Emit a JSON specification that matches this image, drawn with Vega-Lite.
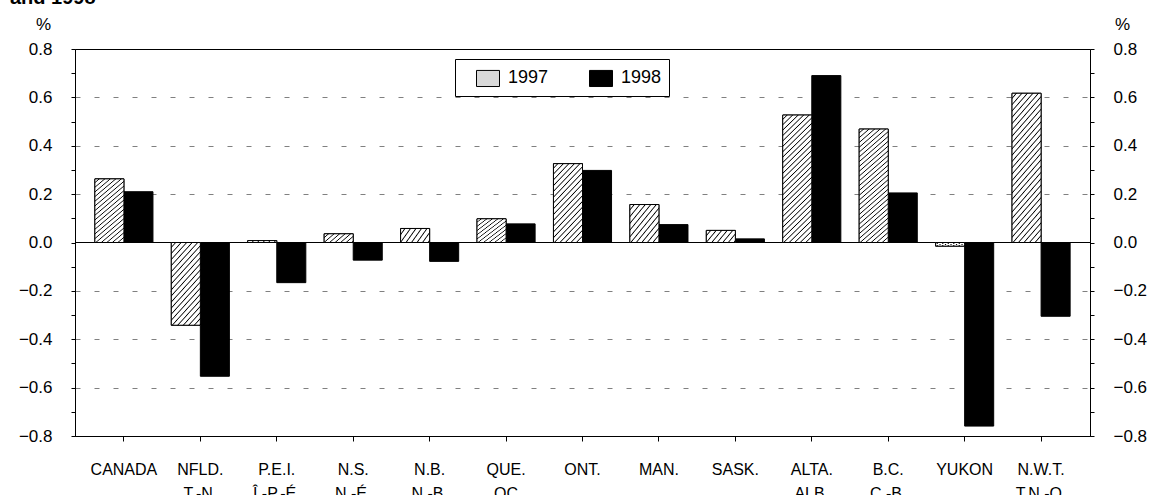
{
"$schema": "https://vega.github.io/schema/vega-lite/v6.json",
"width": 1015, "height": 387,
"autosize": {"type": "none"},
"padding": {"left": 75, "top": 49, "right": 66, "bottom": 59},
"background": "white",
"title": {"text": "and 1998", "anchor": "start", "frame": "group", "fontSize": 20, "fontWeight": "bold", "font": "Liberation Sans", "color": "black", "offset": 0, "dx": -65, "dy": 9, "baseline": "alphabetic"},
"data": {"values": [
{"region": "CANADA", "year": "1997", "value": 0.263},
{"region": "CANADA", "year": "1998", "value": 0.21},
{"region": "NFLD.|T.-N.", "year": "1997", "value": -0.342},
{"region": "NFLD.|T.-N.", "year": "1998", "value": -0.553},
{"region": "P.E.I.|Î.-P.-É.", "year": "1997", "value": 0.008},
{"region": "P.E.I.|Î.-P.-É.", "year": "1998", "value": -0.166},
{"region": "N.S.|N.-É.", "year": "1997", "value": 0.036},
{"region": "N.S.|N.-É.", "year": "1998", "value": -0.073},
{"region": "N.B.|N.-B.", "year": "1997", "value": 0.058},
{"region": "N.B.|N.-B.", "year": "1998", "value": -0.078},
{"region": "QUE.|QC", "year": "1997", "value": 0.098},
{"region": "QUE.|QC", "year": "1998", "value": 0.077},
{"region": "ONT.", "year": "1997", "value": 0.326},
{"region": "ONT.", "year": "1998", "value": 0.298},
{"region": "MAN.", "year": "1997", "value": 0.157},
{"region": "MAN.", "year": "1998", "value": 0.074},
{"region": "SASK.", "year": "1997", "value": 0.05},
{"region": "SASK.", "year": "1998", "value": 0.015},
{"region": "ALTA.|ALB.", "year": "1997", "value": 0.527},
{"region": "ALTA.|ALB.", "year": "1998", "value": 0.69},
{"region": "B.C.|C.-B.", "year": "1997", "value": 0.469},
{"region": "B.C.|C.-B.", "year": "1998", "value": 0.205},
{"region": "YUKON", "year": "1997", "value": -0.015},
{"region": "YUKON", "year": "1998", "value": -0.759},
{"region": "N.W.T.|T.N.-O.", "year": "1997", "value": 0.617},
{"region": "N.W.T.|T.N.-O.", "year": "1998", "value": -0.305}
]},
"layer": [
{
"mark": {"type": "bar", "stroke": "black", "strokeWidth": 1},
"encoding": {
"x": {"field": "region", "type": "nominal", "sort": null, "scale": {"paddingInner": 0.24, "paddingOuter": 0.26},
 "axis": {"title": null, "orient": "bottom", "labelAngle": 0, "tickSize": 5, "labelFontSize": 16, "labelPadding": 28, "labelBaseline": "middle", "labelLineHeight": 24, "labelExpr": "split(datum.label, '|')", "grid": false, "labelFont": "Liberation Sans", "labelColor": "black"}},
"xOffset": {"field": "year", "type": "nominal", "scale": {"domain": ["1997", "1998"], "paddingInner": 0, "paddingOuter": 0}},
"y": {"field": "value", "type": "quantitative", "scale": {"domain": [-0.8, 0.8], "nice": false},
 "axis": {"orient": "left", "title": "%", "titleAngle": 0, "titleX": -32, "titleY": -25, "titleAlign": "center", "titleBaseline": "middle", "titleFontSize": 17, "titleFontWeight": "normal",
  "values": [-0.8, -0.7, -0.6, -0.5, -0.4, -0.3, -0.2, -0.1, 0, 0.1, 0.2, 0.3, 0.4, 0.5, 0.6, 0.7, 0.8],
  "labelExpr": "abs(round(datum.value*10)) % 2 == 0 ? format(datum.value, '.1f') : ''",
  "labelOverlap": false, "labelFontSize": 17, "labelPadding": 19, "tickSize": 4,
  "grid": true, "gridColor": "#808080", "gridWidth": 1, "gridDash": [5, 14],
  "gridOpacity": {"condition": {"test": "abs(datum.value) > 0.15 && abs(datum.value) < 0.75 && abs(round(datum.value*10)) % 2 == 0", "value": 1}, "value": 0}}},
"fill": {"field": "year", "type": "nominal",
 "scale": {"domain": ["1997", "1998"], "range": ["#d9d9d9", "#000000"]},
 "legend": {"title": null, "orient": "none", "legendX": 380, "legendY": 10, "direction": "horizontal", "strokeColor": "black", "fillColor": "white", "padding": 7,
  "symbolType": "M-1,-0.7H1V0.7H-1Z", "symbolSize": 529, "symbolStrokeColor": "black", "symbolStrokeWidth": 1,
  "labelFontSize": 18, "labelFont": "Liberation Sans", "labelColor": "black", "labelOffset": 8, "columnPadding": 26, "symbolOffset": 14}}
}
},
{
"mark": {"type": "rule", "color": "black", "strokeWidth": 1},
"encoding": {"y": {"datum": 0, "type": "quantitative", "axis": null}}
},
{
"transform": [{"filter": "datum.year == '1997'"}],
"mark": {"type": "bar", "stroke": "black", "strokeWidth": 1},
"encoding": {
"x": {"field": "region", "type": "nominal", "sort": null, "scale": {"paddingInner": 0.24, "paddingOuter": 0.26},
 "axis": {"title": null, "orient": "bottom", "labelAngle": 0, "tickSize": 5, "labelFontSize": 16, "labelPadding": 28, "labelBaseline": "middle", "labelLineHeight": 24, "labelExpr": "split(datum.label, '|')", "grid": false, "labelFont": "Liberation Sans", "labelColor": "black"}},
"xOffset": {"field": "year", "type": "nominal", "scale": {"domain": ["1997", "1998"], "paddingInner": 0, "paddingOuter": 0}},
"y": {"field": "value", "type": "quantitative", "scale": {"domain": [-0.8, 0.8], "nice": false},
 "axis": {"orient": "right", "title": "%", "titleAngle": 0, "titleX": 32, "titleY": -25, "titleAlign": "center", "titleBaseline": "middle", "titleFontSize": 17, "titleFontWeight": "normal",
  "values": [-0.8, -0.7, -0.6, -0.5, -0.4, -0.3, -0.2, -0.1, 0, 0.1, 0.2, 0.3, 0.4, 0.5, 0.6, 0.7, 0.8],
  "labelExpr": "abs(round(datum.value*10)) % 2 == 0 ? format(datum.value, '.1f') : ''",
  "labelOverlap": false, "labelFontSize": 17, "labelPadding": 19, "tickSize": 4, "grid": false}},
"fill": {"condition": [
  {"test": "datum.value < -0.2", "value": {"gradient": "linear", "x1": 0, "y1": 0, "x2": 0.6167, "y2": 1.5949, "stops": [
   {"offset": 0, "color": "#fff"},
   {"offset": 0.024, "color": "#fff"}, {"offset": 0.032, "color": "#000"}, {"offset": 0.04, "color": "#fff"},
   {"offset": 0.064, "color": "#fff"}, {"offset": 0.072, "color": "#000"}, {"offset": 0.08, "color": "#fff"},
   {"offset": 0.104, "color": "#fff"}, {"offset": 0.112, "color": "#000"}, {"offset": 0.12, "color": "#fff"},
   {"offset": 0.144, "color": "#fff"}, {"offset": 0.152, "color": "#000"}, {"offset": 0.16, "color": "#fff"},
   {"offset": 0.184, "color": "#fff"}, {"offset": 0.192, "color": "#000"}, {"offset": 0.2, "color": "#fff"},
   {"offset": 0.224, "color": "#fff"}, {"offset": 0.232, "color": "#000"}, {"offset": 0.24, "color": "#fff"},
   {"offset": 0.264, "color": "#fff"}, {"offset": 0.272, "color": "#000"}, {"offset": 0.28, "color": "#fff"},
   {"offset": 0.304, "color": "#fff"}, {"offset": 0.312, "color": "#000"}, {"offset": 0.32, "color": "#fff"},
   {"offset": 0.344, "color": "#fff"}, {"offset": 0.352, "color": "#000"}, {"offset": 0.36, "color": "#fff"},
   {"offset": 0.384, "color": "#fff"}, {"offset": 0.392, "color": "#000"}, {"offset": 0.4, "color": "#fff"},
   {"offset": 0.424, "color": "#fff"}, {"offset": 0.432, "color": "#000"}, {"offset": 0.44, "color": "#fff"},
   {"offset": 0.464, "color": "#fff"}, {"offset": 0.472, "color": "#000"}, {"offset": 0.48, "color": "#fff"},
   {"offset": 0.504, "color": "#fff"}, {"offset": 0.512, "color": "#000"}, {"offset": 0.52, "color": "#fff"},
   {"offset": 0.544, "color": "#fff"}, {"offset": 0.552, "color": "#000"}, {"offset": 0.56, "color": "#fff"},
   {"offset": 0.584, "color": "#fff"}, {"offset": 0.592, "color": "#000"}, {"offset": 0.6, "color": "#fff"},
   {"offset": 0.624, "color": "#fff"}, {"offset": 0.632, "color": "#000"}, {"offset": 0.64, "color": "#fff"},
   {"offset": 0.664, "color": "#fff"}, {"offset": 0.672, "color": "#000"}, {"offset": 0.68, "color": "#fff"},
   {"offset": 0.704, "color": "#fff"}, {"offset": 0.712, "color": "#000"}, {"offset": 0.72, "color": "#fff"},
   {"offset": 0.744, "color": "#fff"}, {"offset": 0.752, "color": "#000"}, {"offset": 0.76, "color": "#fff"},
   {"offset": 0.784, "color": "#fff"}, {"offset": 0.792, "color": "#000"}, {"offset": 0.8, "color": "#fff"},
   {"offset": 0.824, "color": "#fff"}, {"offset": 0.832, "color": "#000"}, {"offset": 0.84, "color": "#fff"},
   {"offset": 0.864, "color": "#fff"}, {"offset": 0.872, "color": "#000"}, {"offset": 0.88, "color": "#fff"},
   {"offset": 0.904, "color": "#fff"}, {"offset": 0.912, "color": "#000"}, {"offset": 0.92, "color": "#fff"},
   {"offset": 0.944, "color": "#fff"}, {"offset": 0.952, "color": "#000"}, {"offset": 0.96, "color": "#fff"},
   {"offset": 0.984, "color": "#fff"}, {"offset": 0.992, "color": "#000"}, {"offset": 1, "color": "#fff"}]}},
  {"test": "datum.value < 0.07", "value": {"gradient": "linear", "x1": 0, "y1": 0, "x2": 1.356, "y2": 0.468, "stops": [
   {"offset": 0, "color": "#fff"},
   {"offset": 0.075, "color": "#fff"}, {"offset": 0.1, "color": "#000"}, {"offset": 0.125, "color": "#fff"},
   {"offset": 0.2, "color": "#fff"}, {"offset": 0.225, "color": "#000"}, {"offset": 0.25, "color": "#fff"},
   {"offset": 0.325, "color": "#fff"}, {"offset": 0.35, "color": "#000"}, {"offset": 0.375, "color": "#fff"},
   {"offset": 0.45, "color": "#fff"}, {"offset": 0.475, "color": "#000"}, {"offset": 0.5, "color": "#fff"},
   {"offset": 0.575, "color": "#fff"}, {"offset": 0.6, "color": "#000"}, {"offset": 0.625, "color": "#fff"},
   {"offset": 0.7, "color": "#fff"}, {"offset": 0.725, "color": "#000"}, {"offset": 0.75, "color": "#fff"},
   {"offset": 0.825, "color": "#fff"}, {"offset": 0.85, "color": "#000"}, {"offset": 0.875, "color": "#fff"},
   {"offset": 0.95, "color": "#fff"}, {"offset": 0.975, "color": "#000"}, {"offset": 1, "color": "#fff"}]}},
  {"test": "datum.value < 0.2", "value": {"gradient": "linear", "x1": 0, "y1": 0, "x2": 1.106, "y2": 1.183, "stops": [
   {"offset": 0, "color": "#fff"},
   {"offset": 0.048, "color": "#fff"}, {"offset": 0.064, "color": "#000"}, {"offset": 0.08, "color": "#fff"},
   {"offset": 0.128, "color": "#fff"}, {"offset": 0.144, "color": "#000"}, {"offset": 0.16, "color": "#fff"},
   {"offset": 0.208, "color": "#fff"}, {"offset": 0.224, "color": "#000"}, {"offset": 0.24, "color": "#fff"},
   {"offset": 0.288, "color": "#fff"}, {"offset": 0.304, "color": "#000"}, {"offset": 0.32, "color": "#fff"},
   {"offset": 0.368, "color": "#fff"}, {"offset": 0.384, "color": "#000"}, {"offset": 0.4, "color": "#fff"},
   {"offset": 0.448, "color": "#fff"}, {"offset": 0.464, "color": "#000"}, {"offset": 0.48, "color": "#fff"},
   {"offset": 0.528, "color": "#fff"}, {"offset": 0.544, "color": "#000"}, {"offset": 0.56, "color": "#fff"},
   {"offset": 0.608, "color": "#fff"}, {"offset": 0.624, "color": "#000"}, {"offset": 0.64, "color": "#fff"},
   {"offset": 0.688, "color": "#fff"}, {"offset": 0.704, "color": "#000"}, {"offset": 0.72, "color": "#fff"},
   {"offset": 0.768, "color": "#fff"}, {"offset": 0.784, "color": "#000"}, {"offset": 0.8, "color": "#fff"},
   {"offset": 0.848, "color": "#fff"}, {"offset": 0.864, "color": "#000"}, {"offset": 0.88, "color": "#fff"},
   {"offset": 0.928, "color": "#fff"}, {"offset": 0.944, "color": "#000"}, {"offset": 0.96, "color": "#fff"},
   {"offset": 1, "color": "#fff"}]}},
  {"test": "datum.value < 0.4", "value": {"gradient": "linear", "x1": 0, "y1": 0, "x2": 0.6167, "y2": 1.5949, "stops": [
   {"offset": 0, "color": "#fff"},
   {"offset": 0.024, "color": "#fff"}, {"offset": 0.032, "color": "#000"}, {"offset": 0.04, "color": "#fff"},
   {"offset": 0.064, "color": "#fff"}, {"offset": 0.072, "color": "#000"}, {"offset": 0.08, "color": "#fff"},
   {"offset": 0.104, "color": "#fff"}, {"offset": 0.112, "color": "#000"}, {"offset": 0.12, "color": "#fff"},
   {"offset": 0.144, "color": "#fff"}, {"offset": 0.152, "color": "#000"}, {"offset": 0.16, "color": "#fff"},
   {"offset": 0.184, "color": "#fff"}, {"offset": 0.192, "color": "#000"}, {"offset": 0.2, "color": "#fff"},
   {"offset": 0.224, "color": "#fff"}, {"offset": 0.232, "color": "#000"}, {"offset": 0.24, "color": "#fff"},
   {"offset": 0.264, "color": "#fff"}, {"offset": 0.272, "color": "#000"}, {"offset": 0.28, "color": "#fff"},
   {"offset": 0.304, "color": "#fff"}, {"offset": 0.312, "color": "#000"}, {"offset": 0.32, "color": "#fff"},
   {"offset": 0.344, "color": "#fff"}, {"offset": 0.352, "color": "#000"}, {"offset": 0.36, "color": "#fff"},
   {"offset": 0.384, "color": "#fff"}, {"offset": 0.392, "color": "#000"}, {"offset": 0.4, "color": "#fff"},
   {"offset": 0.424, "color": "#fff"}, {"offset": 0.432, "color": "#000"}, {"offset": 0.44, "color": "#fff"},
   {"offset": 0.464, "color": "#fff"}, {"offset": 0.472, "color": "#000"}, {"offset": 0.48, "color": "#fff"},
   {"offset": 0.504, "color": "#fff"}, {"offset": 0.512, "color": "#000"}, {"offset": 0.52, "color": "#fff"},
   {"offset": 0.544, "color": "#fff"}, {"offset": 0.552, "color": "#000"}, {"offset": 0.56, "color": "#fff"},
   {"offset": 0.584, "color": "#fff"}, {"offset": 0.592, "color": "#000"}, {"offset": 0.6, "color": "#fff"},
   {"offset": 0.624, "color": "#fff"}, {"offset": 0.632, "color": "#000"}, {"offset": 0.64, "color": "#fff"},
   {"offset": 0.664, "color": "#fff"}, {"offset": 0.672, "color": "#000"}, {"offset": 0.68, "color": "#fff"},
   {"offset": 0.704, "color": "#fff"}, {"offset": 0.712, "color": "#000"}, {"offset": 0.72, "color": "#fff"},
   {"offset": 0.744, "color": "#fff"}, {"offset": 0.752, "color": "#000"}, {"offset": 0.76, "color": "#fff"},
   {"offset": 0.784, "color": "#fff"}, {"offset": 0.792, "color": "#000"}, {"offset": 0.8, "color": "#fff"},
   {"offset": 0.824, "color": "#fff"}, {"offset": 0.832, "color": "#000"}, {"offset": 0.84, "color": "#fff"},
   {"offset": 0.864, "color": "#fff"}, {"offset": 0.872, "color": "#000"}, {"offset": 0.88, "color": "#fff"},
   {"offset": 0.904, "color": "#fff"}, {"offset": 0.912, "color": "#000"}, {"offset": 0.92, "color": "#fff"},
   {"offset": 0.944, "color": "#fff"}, {"offset": 0.952, "color": "#000"}, {"offset": 0.96, "color": "#fff"},
   {"offset": 0.984, "color": "#fff"}, {"offset": 0.992, "color": "#000"}, {"offset": 1, "color": "#fff"}]}}
 ],
 "value": {"gradient": "linear", "x1": 0, "y1": 0, "x2": 0.2997, "y2": 1.3434, "stops": [
   {"offset": 0, "color": "#fff"},
   {"offset": 0.018, "color": "#fff"}, {"offset": 0.024, "color": "#000"}, {"offset": 0.03, "color": "#fff"},
   {"offset": 0.048, "color": "#fff"}, {"offset": 0.054, "color": "#000"}, {"offset": 0.06, "color": "#fff"},
   {"offset": 0.078, "color": "#fff"}, {"offset": 0.084, "color": "#000"}, {"offset": 0.09, "color": "#fff"},
   {"offset": 0.108, "color": "#fff"}, {"offset": 0.114, "color": "#000"}, {"offset": 0.12, "color": "#fff"},
   {"offset": 0.138, "color": "#fff"}, {"offset": 0.144, "color": "#000"}, {"offset": 0.15, "color": "#fff"},
   {"offset": 0.168, "color": "#fff"}, {"offset": 0.174, "color": "#000"}, {"offset": 0.18, "color": "#fff"},
   {"offset": 0.198, "color": "#fff"}, {"offset": 0.204, "color": "#000"}, {"offset": 0.21, "color": "#fff"},
   {"offset": 0.228, "color": "#fff"}, {"offset": 0.234, "color": "#000"}, {"offset": 0.24, "color": "#fff"},
   {"offset": 0.258, "color": "#fff"}, {"offset": 0.264, "color": "#000"}, {"offset": 0.27, "color": "#fff"},
   {"offset": 0.288, "color": "#fff"}, {"offset": 0.294, "color": "#000"}, {"offset": 0.3, "color": "#fff"},
   {"offset": 0.318, "color": "#fff"}, {"offset": 0.324, "color": "#000"}, {"offset": 0.33, "color": "#fff"},
   {"offset": 0.348, "color": "#fff"}, {"offset": 0.354, "color": "#000"}, {"offset": 0.36, "color": "#fff"},
   {"offset": 0.378, "color": "#fff"}, {"offset": 0.384, "color": "#000"}, {"offset": 0.39, "color": "#fff"},
   {"offset": 0.408, "color": "#fff"}, {"offset": 0.414, "color": "#000"}, {"offset": 0.42, "color": "#fff"},
   {"offset": 0.438, "color": "#fff"}, {"offset": 0.444, "color": "#000"}, {"offset": 0.45, "color": "#fff"},
   {"offset": 0.468, "color": "#fff"}, {"offset": 0.474, "color": "#000"}, {"offset": 0.48, "color": "#fff"},
   {"offset": 0.498, "color": "#fff"}, {"offset": 0.504, "color": "#000"}, {"offset": 0.51, "color": "#fff"},
   {"offset": 0.528, "color": "#fff"}, {"offset": 0.534, "color": "#000"}, {"offset": 0.54, "color": "#fff"},
   {"offset": 0.558, "color": "#fff"}, {"offset": 0.564, "color": "#000"}, {"offset": 0.57, "color": "#fff"},
   {"offset": 0.588, "color": "#fff"}, {"offset": 0.594, "color": "#000"}, {"offset": 0.6, "color": "#fff"},
   {"offset": 0.618, "color": "#fff"}, {"offset": 0.624, "color": "#000"}, {"offset": 0.63, "color": "#fff"},
   {"offset": 0.648, "color": "#fff"}, {"offset": 0.654, "color": "#000"}, {"offset": 0.66, "color": "#fff"},
   {"offset": 0.678, "color": "#fff"}, {"offset": 0.684, "color": "#000"}, {"offset": 0.69, "color": "#fff"},
   {"offset": 0.708, "color": "#fff"}, {"offset": 0.714, "color": "#000"}, {"offset": 0.72, "color": "#fff"},
   {"offset": 0.738, "color": "#fff"}, {"offset": 0.744, "color": "#000"}, {"offset": 0.75, "color": "#fff"},
   {"offset": 0.768, "color": "#fff"}, {"offset": 0.774, "color": "#000"}, {"offset": 0.78, "color": "#fff"},
   {"offset": 0.798, "color": "#fff"}, {"offset": 0.804, "color": "#000"}, {"offset": 0.81, "color": "#fff"},
   {"offset": 0.828, "color": "#fff"}, {"offset": 0.834, "color": "#000"}, {"offset": 0.84, "color": "#fff"},
   {"offset": 0.858, "color": "#fff"}, {"offset": 0.864, "color": "#000"}, {"offset": 0.87, "color": "#fff"},
   {"offset": 0.888, "color": "#fff"}, {"offset": 0.894, "color": "#000"}, {"offset": 0.9, "color": "#fff"},
   {"offset": 0.918, "color": "#fff"}, {"offset": 0.924, "color": "#000"}, {"offset": 0.93, "color": "#fff"},
   {"offset": 0.948, "color": "#fff"}, {"offset": 0.954, "color": "#000"}, {"offset": 0.96, "color": "#fff"},
   {"offset": 0.978, "color": "#fff"}, {"offset": 0.984, "color": "#000"}, {"offset": 0.99, "color": "#fff"},
   {"offset": 1, "color": "#fff"}]}}
}
}
],
"resolve": {"axis": {"y": "independent"}},
"config": {
 "view": {"stroke": "black", "strokeWidth": 1},
 "axis": {"domainColor": "black", "tickColor": "black", "labelColor": "black", "labelFont": "Liberation Sans", "titleFont": "Liberation Sans", "titleColor": "black"}
}
}
